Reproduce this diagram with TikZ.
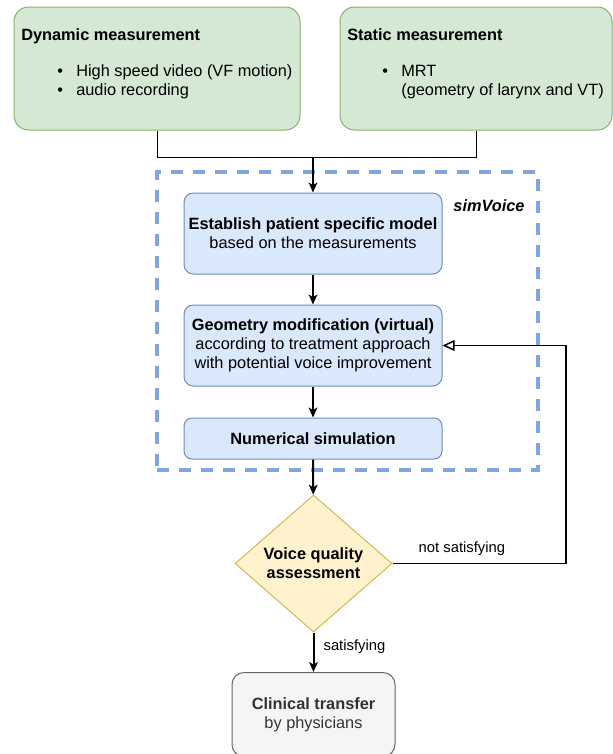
\documentclass[tikz,border=0pt]{standalone}
\usepackage{fontspec}
\setmainfont{Liberation Sans}
\usetikzlibrary{arrows.meta, shapes.geometric}
\definecolor{greenfill}{HTML}{D5E8D4}
\definecolor{greenline}{HTML}{82B366}
\definecolor{bluefill}{HTML}{DAE8FC}
\definecolor{blueline}{HTML}{6C8EBF}
\definecolor{dashblue}{HTML}{7EA6E0}
\definecolor{yellowfill}{HTML}{FFF2CC}
\definecolor{yellowline}{HTML}{D6B656}
\definecolor{grayfill}{HTML}{F5F5F5}
\definecolor{grayline}{HTML}{666666}
\definecolor{graytext}{HTML}{333333}
\newcommand{\bulletlist}[1]{\begin{tabular}[t]{@{}l@{\hspace{10pt}}l@{}}#1\end{tabular}}

\begin{document}
\begin{tikzpicture}[x=0.75pt, y=-0.75pt,
    every node/.style={font=\fontsize{12.25pt}{14.25pt}\selectfont},
    measbox/.style={draw=greenline, fill=greenfill, rounded corners=11pt, line width=0.75pt, minimum height=92.25pt},
    simbox/.style={draw=blueline, fill=bluefill, rounded corners=7pt, line width=0.75pt, minimum width=193.5pt, align=center, inner sep=0pt},
    group/.style={draw=dashblue, line width=2.5pt, dash pattern=on 9pt off 7.5pt, minimum width=285.75pt, minimum height=223.5pt, inner sep=0pt},
    decision/.style={diamond, draw=yellowline, fill=yellowfill, line width=0.75pt, minimum width=117.75pt, minimum height=102.75pt, inner sep=0pt, align=center},
    endbox/.style={draw=grayline, fill=grayfill, text=graytext, rounded corners=9pt, line width=0.75pt, minimum width=122.25pt, minimum height=63pt, align=center},
    plain/.style={line width=0.75pt},
    flow/.style={-{Stealth[length=7.5pt, width=6.5pt, inset=2pt]}, line width=1.5pt},
    back/.style={-{Triangle[open, length=9pt, width=8pt]}, line width=1.1pt},
    edgelabel/.style={font=\fontsize{11.1pt}{13pt}\selectfont}]
  \useasboundingbox (0,0) rectangle (612,754);

  \node[measbox, minimum width=214.5pt] (dyn) at (157,68.5) {};
  \node[measbox, minimum width=204pt] (stat) at (476,68.5) {};
  \node[anchor=base west, inner sep=0pt] (dyntitle) at (21,40) {\textbf{Dynamic measurement}};
  \node[anchor=base west, inner sep=0pt] (dynlist) at (57,76)
    {\bulletlist{\textbullet & High speed video (VF motion)\\ \textbullet & audio recording}};
  \node[anchor=base west, inner sep=0pt] (stattitle) at (347,40) {\textbf{Static measurement}};
  \node[anchor=base west, inner sep=0pt] (statlist) at (382,76)
    {\bulletlist{\textbullet & MRT\\ & (geometry of larynx and VT)}};

  \node[group] (sim) at (347.5,321) {};
  \node (tag) at (489,206) {\textbf{\textit{simVoice}}};

  \node[simbox, minimum height=60.75pt] (model) at (313,233.5)
    {\textbf{Establish patient specific model}\\based on the measurements};
  \node[simbox, minimum height=60.75pt] (geom) at (313,345.5)
    {\textbf{Geometry modification (virtual)}\\according to treatment approach\\with potential voice improvement};
  \node[simbox, rounded corners=6pt, minimum height=30.75pt] (num) at (313,438.5)
    {\textbf{Numerical simulation}};

  \node[decision] (qa) at (313.5,563.5) {\textbf{Voice quality}\\\textbf{assessment}};
  \node[endbox] (clin) at (313.5,714.5) {\textbf{Clinical transfer}\\by physicians};

  \coordinate (join) at (313,157);
  \coordinate (turn) at (566,345.5);
  \draw[plain] (dyn.south) |- (join);
  \draw[plain] (stat.south) |- (join);
  \draw[flow, line width=1.1pt] (join) -- (model.north);
  \foreach \a/\b in {model/geom, geom/num, num/qa}
    \draw[flow] (\a) -- (\b);
  \draw[flow] (qa) -- node[pos=0.35, right, xshift=3.5pt, edgelabel] (sat) {satisfying} (clin);
  \draw[back] (qa.east) -| node[pos=0.2, above, yshift=2pt, edgelabel] (notsat) {not satisfying} (turn) -- (geom.east);
\end{tikzpicture}
\end{document}
